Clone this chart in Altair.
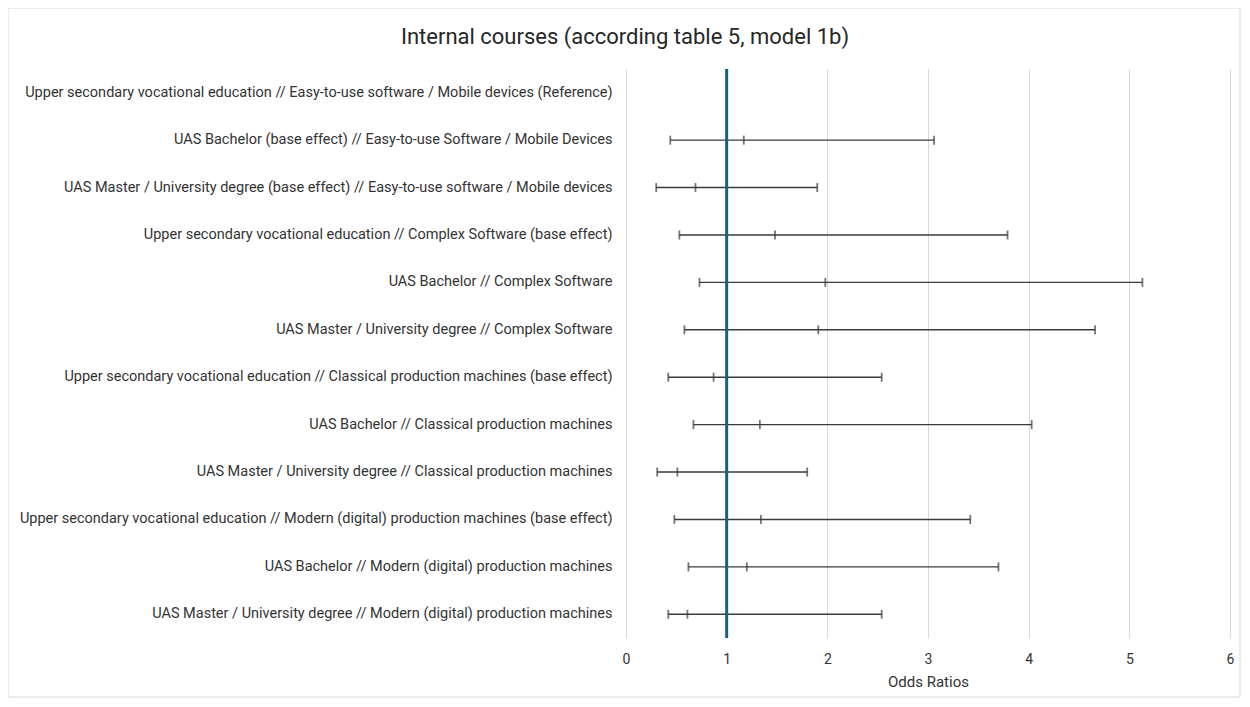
import altair as alt
import pandas as pd

categories = [
    "Upper secondary vocational education // Easy-to-use software / Mobile devices (Reference)",
    "UAS Bachelor (base effect) // Easy-to-use Software / Mobile Devices",
    "UAS Master / University degree (base effect) // Easy-to-use software / Mobile devices",
    "Upper secondary vocational education // Complex Software (base effect)",
    "UAS Bachelor // Complex Software",
    "UAS Master / University degree // Complex Software",
    "Upper secondary vocational education // Classical production machines (base effect)",
    "UAS Bachelor // Classical production machines",
    "UAS Master / University degree // Classical production machines",
    "Upper secondary vocational education // Modern (digital) production machines (base effect)",
    "UAS Bachelor // Modern (digital) production machines",
    "UAS Master / University degree // Modern (digital) production machines",
]
odds_ratio = [None, 1.17, 0.69, 1.48, 1.98, 1.91, 0.87, 1.33, 0.51, 1.34, 1.20, 0.61]
ci_low = [None, 0.44, 0.30, 0.53, 0.73, 0.58, 0.42, 0.67, 0.31, 0.48, 0.62, 0.42]
ci_high = [None, 3.06, 1.90, 3.79, 5.13, 4.66, 2.54, 4.03, 1.80, 3.42, 3.70, 2.54]
reference_value = [1]
x_ticks = [0, 1, 2, 3, 4, 5, 6]
title_text = ["Internal courses (according table 5, model 1b)"]

df = pd.DataFrame({"cat": categories, "or": odds_ratio, "lo": ci_low, "hi": ci_high})
ref_df = pd.DataFrame({"ref": reference_value})
frame_df = pd.DataFrame({"f": [0]})
title_df = pd.DataFrame({"t": title_text})

FONT = "Roboto"
TEXT = "#333333"
LINE = "#3a3a3a"

y_enc = alt.Y(
    "cat:N",
    sort=categories,
    scale=alt.Scale(domain=categories, paddingInner=0, paddingOuter=0),
    axis=alt.Axis(
        title=None, domain=False, ticks=False, grid=False,
        labelLimit=700, labelPadding=14, labelFontSize=14.5,
        labelColor=TEXT, labelFont=FONT,
    ),
)
x_scale = alt.Scale(domain=[0, 6], nice=False)
x_axis = alt.Axis(
    values=x_ticks, format="d", title="Odds Ratios", grid=True, gridColor="#d9d9d9",
    domain=False, ticks=False, labelPadding=14, labelFontSize=14, labelFlush=False,
    labelColor=TEXT, labelFont=FONT, titleFont=FONT, titleFontSize=15,
    titleFontWeight="normal", titleColor=TEXT, titlePadding=8,
)

base = alt.Chart(df).transform_filter("datum.or != null")

grid_holder = alt.Chart(df).mark_point(opacity=0).encode(
    x=alt.X("or:Q", scale=x_scale, axis=x_axis),
    y=y_enc,
)

bars = base.mark_rule(color=LINE, strokeWidth=1.4).encode(
    x=alt.X("lo:Q", scale=x_scale),
    x2="hi:Q",
    y=alt.Y("cat:N", sort=categories),
)
cap_lo = base.mark_tick(orient="vertical", color=LINE, size=9, thickness=1.8).encode(
    x=alt.X("lo:Q", scale=x_scale), y=alt.Y("cat:N", sort=categories)
)
cap_hi = base.mark_tick(orient="vertical", color=LINE, size=9, thickness=1.8).encode(
    x=alt.X("hi:Q", scale=x_scale), y=alt.Y("cat:N", sort=categories)
)
cap_or = base.mark_tick(orient="vertical", color=LINE, size=9, thickness=1.8).encode(
    x=alt.X("or:Q", scale=x_scale), y=alt.Y("cat:N", sort=categories)
)

ref_line = alt.Chart(ref_df).mark_rule(color="#156082", strokeWidth=3).encode(
    x=alt.X("ref:Q", scale=x_scale)
)

frame = alt.Chart(frame_df).mark_rect(fill=None, stroke="#d9d9d9", strokeWidth=1).encode(
    x=alt.value(-618), x2=alt.value(614), y=alt.value(-61), y2=alt.value(628)
)

title = alt.Chart(title_df).mark_text(
    font=FONT, fontSize=22, color="#262626", align="center", baseline="middle"
).encode(text="t:N", x=alt.value(-1), y=alt.value(-32))

chart = alt.layer(frame, grid_holder, bars, cap_lo, cap_hi, cap_or, ref_line, title).properties(
    width=604,
    height=569,
    background="white",
    autosize=alt.AutoSizeParams(type="none"),
    padding={"left": 618, "top": 61, "right": 12, "bottom": 60},
).configure_view(strokeWidth=0, stroke="transparent")

chart.save("out.html", embed_options={"renderer": "svg", "actions": False})
